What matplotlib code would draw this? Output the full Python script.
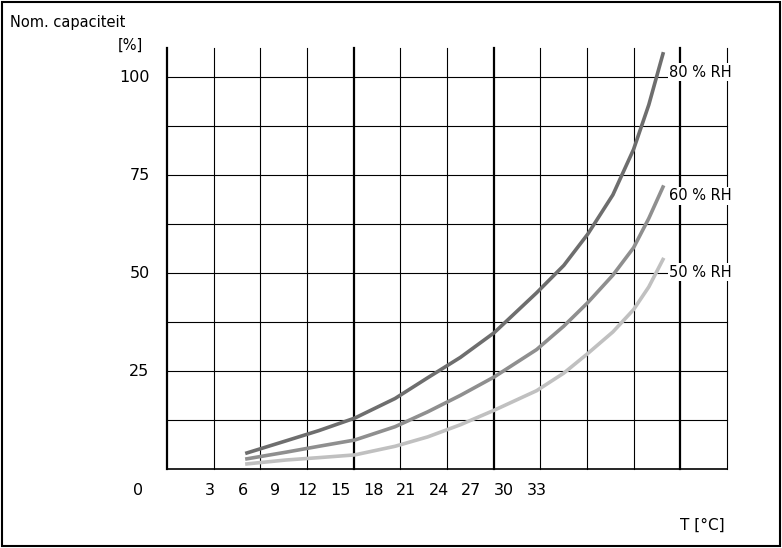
import matplotlib
matplotlib.use("Agg")
import matplotlib.pyplot as plt
from matplotlib.patches import Rectangle

temps = [6.4, 10, 13, 16.3, 20, 23, 26, 29.1, 33, 35.5, 37.7, 40, 41.9, 43.3, 44.6]
rh80 = [4.1, 7.2, 9.8, 13, 18, 23.3, 28.5, 34.8, 45, 52, 60, 70, 81.6, 93, 106]
rh60 = [2.6, 4.3, 5.8, 7.4, 10.8, 14.6, 18.8, 23.5, 30.5, 36.5, 42.5, 49.5, 56.5, 64, 72]
rh50 = [1.3, 2.3, 2.9, 3.6, 5.8, 8.2, 11.3, 15, 20, 24.5, 29.5, 35, 40.7, 46.5, 53.5]
xticks = [3, 6, 9, 12, 15, 18, 21, 24, 27, 30, 33]
yticks = [25, 50, 75, 100]

W, H = 782, 548
fig = plt.figure(figsize=(W/100, H/100), dpi=100)
fig.patches.append(Rectangle((0.003, 0.003), 0.994, 0.994, transform=fig.transFigure,
                             fill=False, ec='black', lw=1.5))
ax = fig.add_axes([167/W, 1-469/H, (727-167)/W, (469-48)/H])
x0, step = -0.94, 4.285
ax.set_xlim(x0, x0+12*step)
ax.set_ylim(0, 107.5)
ax.axis('off')
for k in range(13):
    x = x0 + k*step
    thick = k in (0, 4, 7, 11)
    ax.plot([x, x], [0, 107.5], color='black', lw=1.6 if thick else 0.8, clip_on=False)
for k in range(9):
    y = k*12.5
    ax.plot([x0, x0+12*step], [y, y], color='black', lw=1.2 if k == 0 else 0.8, clip_on=False)

ax.plot(temps, rh80, color='#6e6e6e', lw=2.6, clip_on=False, solid_joinstyle='round')
ax.plot(temps, rh60, color='#8f8f8f', lw=2.6, clip_on=False, solid_joinstyle='round')
ax.plot(temps, rh50, color='#c0c0c0', lw=2.6, clip_on=False, solid_joinstyle='round')

fs = 11.5
for v in xticks:
    ax.text(v, -5.5, str(v), ha='center', va='center', fontsize=fs)
for v in yticks:
    ax.text(x0-1.6, v, str(v), ha='right', va='center', fontsize=fs)
ax.text(x0-2.2, -5.5, '0', ha='right', va='center', fontsize=fs)

fig.text(10/W, 1-22/H, 'Nom. capaciteit', fontsize=10.5, va='center')
fig.text(118/W, 1-45/H, '[%]', fontsize=10.5, va='center')
fig.text(680/W, 1-525/H, 'T [°C]', fontsize=11, va='center')
for lab, yy in (('80 % RH', 72), ('60 % RH', 196), ('50 % RH', 272)):
    fig.text(669/W, 1-yy/H, lab, fontsize=10.5, va='center',
             bbox=dict(fc='white', ec='none', pad=1))
fig.savefig('out.png', dpi=100)
